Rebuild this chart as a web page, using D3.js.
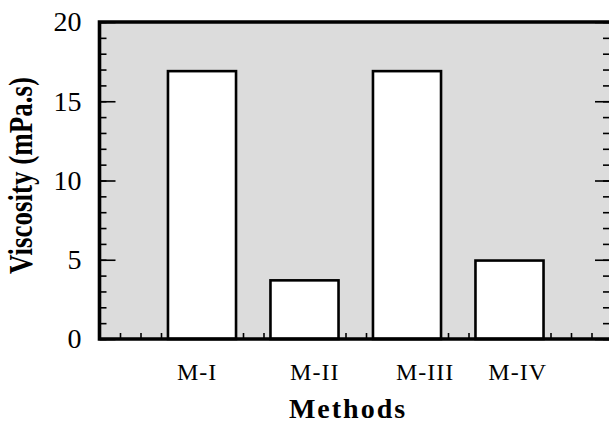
<!DOCTYPE html>
<html><head><meta charset="utf-8">
<script src="https://cdn.jsdelivr.net/npm/d3@7"></script>
<style>body{margin:0;background:#fff;overflow:hidden}</style></head>
<body><svg id="c" width="609" height="425"></svg>
<script>
const categories = ["M-I", "M-II", "M-III", "M-IV"];
const viscosity = [16.9, 3.7, 16.9, 4.95];
const barPositions = [5, 10, 15, 20];
const labelPositions = [4.76, 10.5, 15.88, 20.4];
const yTicks = [0, 5, 10, 15, 20];
const yMinorTicks = d3.range(0, 21, 1);
const xMinorTicks = d3.range(0, 26, 1);
const xTitle = "Methods";
const yTitle = "Viscosity (mPa.s)";

const svg = d3.select("#c");
const L = 99.5, T = 22, B = 339, R = 612;
const x = d3.scaleLinear().domain([0, 25]).range([L, R]);
const y = d3.scaleLinear().domain([0, 20]).range([B, T]);
const serif = "'Liberation Serif','Times New Roman',serif";

svg.append("rect").attr("x", L).attr("y", T).attr("width", R - L).attr("height", B - T).attr("fill", "#dcdcdc");

function ticks(axis, tx, ty) {
  const g = svg.append("g").attr("transform", `translate(${tx},${ty})`).call(axis);
  g.select(".domain").remove();
  g.selectAll("line").attr("stroke", "#000").attr("stroke-width", 1.6);
  g.selectAll("text").remove();
  return g;
}
ticks(d3.axisRight(y).tickValues(yMinorTicks).tickSize(7), L, 0);
ticks(d3.axisRight(y).tickValues(yTicks).tickSize(16), L, 0);
ticks(d3.axisLeft(y).tickValues(yMinorTicks).tickSize(6), R - 3, 0);
ticks(d3.axisLeft(y).tickValues(yTicks).tickSize(14), R - 3, 0);
ticks(d3.axisTop(x).tickValues(xMinorTicks).tickSize(6), 0, B);

// y tick labels
const yl = svg.append("g").attr("transform", `translate(${L},0)`)
  .call(d3.axisLeft(y).tickValues(yTicks).tickSize(0).tickPadding(18).tickFormat(d3.format("d")));
yl.select(".domain").remove();
yl.selectAll("text").attr("font-family", serif).attr("font-size", 28).attr("fill", "#000");

// bars
const bw = 3.32;
svg.append("g").selectAll("rect").data(viscosity).join("rect")
  .attr("x", (d, i) => x(barPositions[i] - bw / 2))
  .attr("width", x(bw) - x(0))
  .attr("y", d => y(d))
  .attr("height", d => y(0) - y(d))
  .attr("fill", "#fff").attr("stroke", "#000").attr("stroke-width", 2.6);

// frame
svg.append("path")
  .attr("d", `M${R},${T}H${L}V${B}H${R}`)
  .attr("fill", "none").attr("stroke", "#000").attr("stroke-width", 3.6);

// category labels
svg.append("g").selectAll("text").data(categories).join("text")
  .attr("x", (d, i) => x(labelPositions[i])).attr("y", 380)
  .attr("text-anchor", "middle").attr("font-family", serif).attr("font-size", 24)
  .attr("letter-spacing", 1)
  .text(d => d);

svg.append("text").attr("x", 348).attr("y", 418).attr("text-anchor", "middle")
  .attr("font-family", serif).attr("font-weight", "bold").attr("font-size", 28)
  .attr("letter-spacing", 2).text(xTitle);

svg.append("text").attr("transform", "translate(32,175.5) rotate(-90) scale(1,1.25)")
  .attr("text-anchor", "middle").attr("font-family", serif).attr("font-weight", "bold")
  .attr("font-size", 27).text(yTitle);
</script></body></html>
